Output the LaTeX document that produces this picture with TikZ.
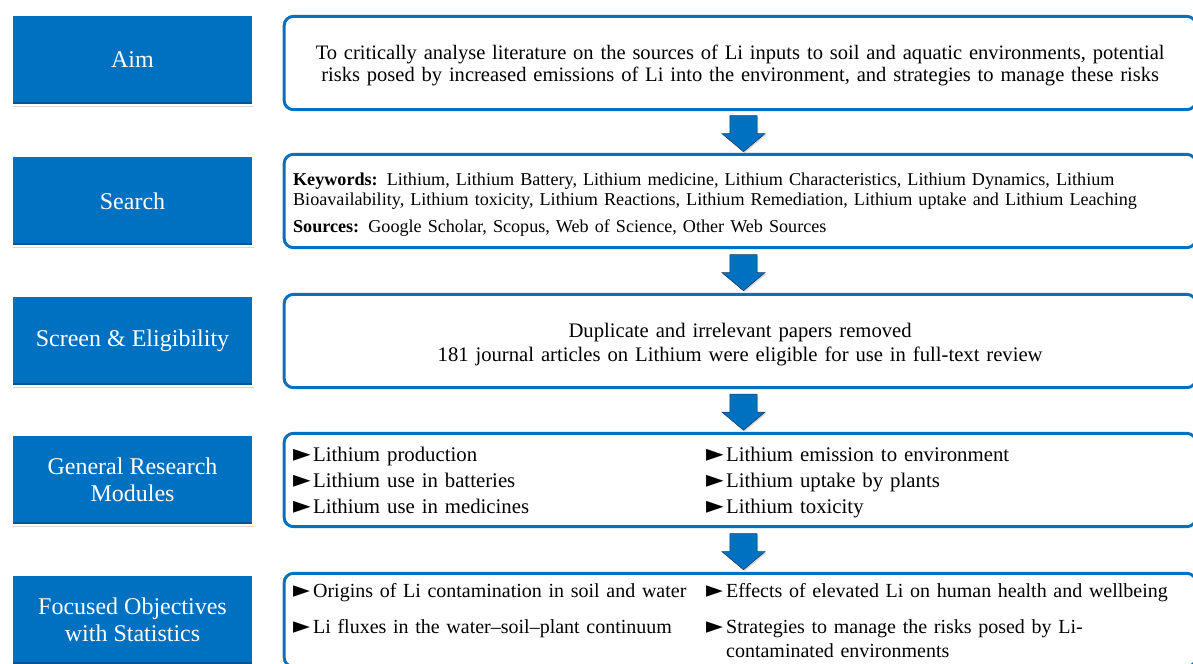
\documentclass[tikz,border=0pt]{standalone}
\usepackage{fontspec}
\setmainfont{Liberation Serif}
\newfontfamily\symfont{DejaVu Sans}
\usetikzlibrary{positioning, shapes.arrows, shadows, calc}
\definecolor{tabblue}{RGB}{0,112,192}
\definecolor{tabedge}{RGB}{25,60,100}
\tikzset{
  stage/.style={rectangle, fill=tabblue, draw=white, line width=1.5pt,
                text=white, font=\fontsize{18}{20.5}\selectfont,
                minimum width=180.75pt, minimum height=67.5pt, align=center,
                path picture={\fill[tabblue!75!black]
                  (path picture bounding box.south west) rectangle
                  ([yshift=2.2pt]path picture bounding box.south east);},
                drop shadow={shadow xshift=0.8pt, shadow yshift=-1.5pt, opacity=0.3}},
  panel/.style={rectangle, rounded corners=7pt, draw=tabblue, line width=2.2pt,
                fill=white, minimum width=684pt, minimum height=70pt,
                right=21.5pt of #1},
  ptext/.style={text width=670.5pt, inner sep=0pt},
  flow/.style={single arrow, shape border rotate=270, fill=tabblue,
               draw=tabedge, line width=0.4pt, inner xsep=10pt, inner ysep=2pt,
               minimum height=27pt,
               single arrow head extend=6pt, single arrow tip angle=100,
               drop shadow={shadow xshift=1pt, shadow yshift=-1pt, opacity=0.3}},
}
\newcommand{\tri}{{\symfont\scalebox{1.1}[1.15]{►}}}
\begin{document}
\begin{tikzpicture}[x=0.75pt, y=-0.75pt]
  \useasboundingbox (0,0) rectangle (1193,664);
  \clip (0,0) rectangle (1193,664);
  %% Stages
  \node[stage] (aim)  at (132.5,60)  {Aim};
  \node[stage] (srch) at (132.5,201) {Search};
  \node[stage] (scrn) at (132.5,341) {Screen \& Eligibility};
  \node[stage] (genr) at (132.5,480) {General Research\\Modules};
  \node[stage] (focs) at (132.5,620) {Focused Objectives\\with Statistics};
  %% Panels
  \node[panel=aim, yshift=-2.25pt] (aimbox) {};
  \node[panel=srch] (srchbox) {};
  \node[panel=scrn] (scrnbox) {};
  \node[panel=genr] (genrbox) {};
  \node[panel=focs] (focsbox) {};
  %% Panel texts
  \node[ptext, align=center, font=\fontsize{15.4}{16.5}\selectfont]
    (aimtxt) at ([yshift=-1.6pt]aimbox.center)
    {To critically analyse literature on the sources of Li inputs to soil and aquatic environments, potential\\
     risks posed by increased emissions of Li into the environment, and strategies to manage these risks};
  \node[ptext, align=left, font=\fontsize{13.6}{14.6}\selectfont]
    (srchtxt) at ([yshift=-2.75pt]srchbox.center)
    {\textbf{Keywords:} Lithium, Lithium Battery, Lithium medicine, Lithium Characteristics, Lithium Dynamics, Lithium\\
     Bioavailability, Lithium toxicity, Lithium Reactions, Lithium Remediation, Lithium uptake and Lithium Leaching\\[5.5pt]
     \textbf{Sources:} Google Scholar, Scopus, Web of Science, Other Web Sources};
  \node[ptext, align=center, font=\fontsize{15.5}{18}\selectfont]
    (scrntxt) at ([yshift=-2.75pt]scrnbox.center)
    {Duplicate and irrelevant papers removed\\
     181 journal articles on Lithium were eligible for use in full-text review};
  \node[ptext, align=left, font=\fontsize{15.6}{19.5}\selectfont]
    (genrtxt) at ([yshift=-1.5pt]genrbox.center)
    {\begin{tabular}{@{}p{15pt}@{}p{294.75pt}@{}p{15pt}@{}l@{}}
       \tri & Lithium production         & \tri & Lithium emission to environment\\
       \tri & Lithium use in batteries   & \tri & Lithium uptake by plants\\
       \tri & Lithium use in medicines   & \tri & Lithium toxicity
     \end{tabular}};
  \node[ptext, align=left, font=\fontsize{15}{18}\selectfont]
    (focstxt) at ([yshift=-2pt]focsbox.center)
    {\begin{tabular}{@{}p{15pt}@{}p{294.75pt}@{}p{15pt}@{}l@{}}
       \tri & Origins of Li contamination in soil and water & \tri & Effects of elevated Li on human health and wellbeing\\[9pt]
       \tri & Li fluxes in the water--soil--plant continuum  & \tri & Strategies to manage the risks posed by Li-\\
            &                                               &      & contaminated environments
     \end{tabular}};
  %% Block arrows between panels
  \foreach \a/\b in {aimbox/srchbox,srchbox/scrnbox,scrnbox/genrbox,genrbox/focsbox}
    \node[flow, xshift=2.5pt, yshift=3pt] (to-\b) at ($(\a.south)!0.5!(\b.north)$) {};
\end{tikzpicture}
\end{document}
